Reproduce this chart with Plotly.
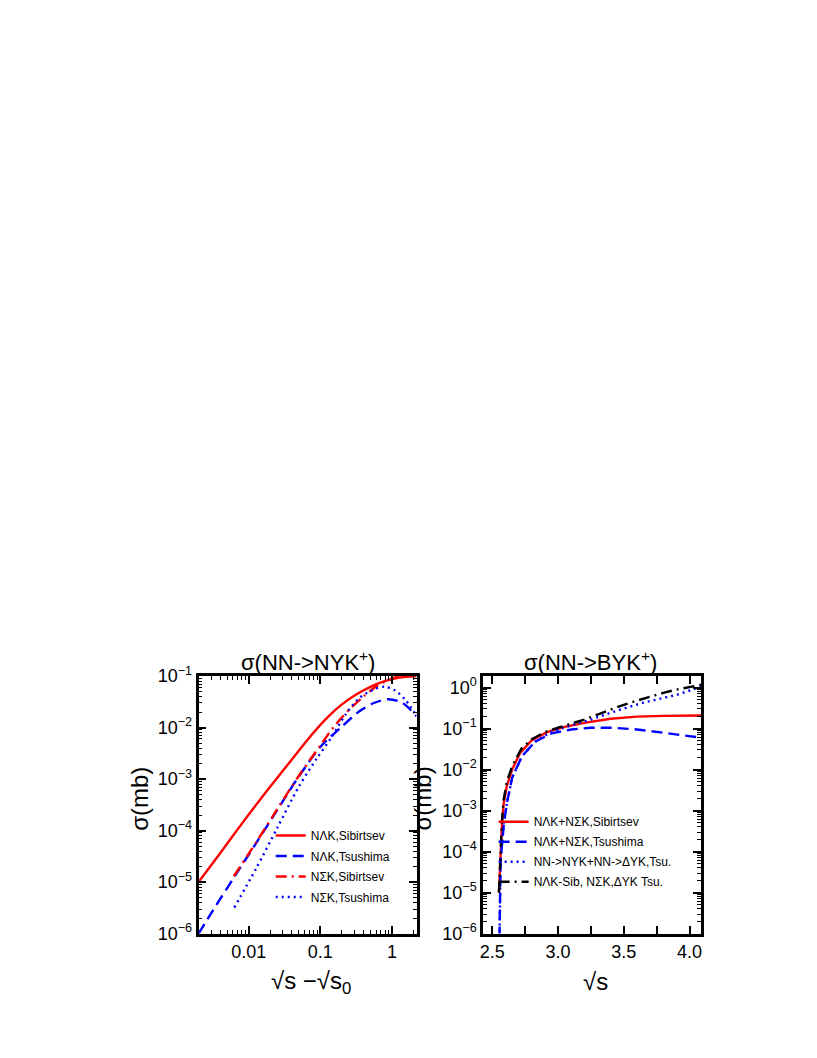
import plotly.graph_objects as go

# ---------------- data: left panel (x = sqrt(s)-sqrt(s0) [GeV], y = sigma [mb]) ----------------
eps_lam_sib = [0.002, 0.004, 0.0079, 0.0158, 0.0316, 0.05, 0.079, 0.126, 0.2, 0.316, 0.5, 0.79, 1.26, 2.2]
sig_lam_sib = [1.0e-5, 3.63e-5, 1.32e-4, 4.68e-4, 1.58e-3, 3.55e-3, 7.76e-3, 0.0158, 0.0282, 0.0437, 0.0617, 0.0794, 0.0933, 0.10]

eps_lam_tsu = [0.002, 0.00316, 0.0063, 0.0126, 0.025, 0.05, 0.1, 0.2, 0.355, 0.56, 0.89, 1.41, 2.2]
sig_lam_tsu = [1.0e-6, 2.8e-6, 1.26e-5, 5.6e-5, 2.5e-4, 1.12e-3, 4.2e-3, 0.0105, 0.021, 0.030, 0.0355, 0.030, 0.0166]

eps_sig_sib = [0.0062, 0.0126, 0.025, 0.05, 0.1, 0.158, 0.25, 0.4, 0.63, 1.0, 1.26, 2.2]
sig_sig_sib = [1.3e-5, 5.8e-5, 2.6e-4, 1.15e-3, 4.5e-3, 0.0108, 0.0220, 0.040, 0.066, 0.089, 0.10, 0.117]

eps_sig_tsu = [0.0063, 0.0126, 0.025, 0.05, 0.089, 0.141, 0.224, 0.355, 0.56, 0.79, 1.12, 1.58, 2.2]
sig_sig_tsu = [3.2e-6, 1.8e-5, 1.12e-4, 7.1e-4, 2.5e-3, 6.3e-3, 0.0178, 0.038, 0.055, 0.062, 0.052, 0.033, 0.0166]

# ---------------- data: right panel (x = sqrt(s) [GeV], y = sigma [mb]) ----------------
rs_sib = [2.550, 2.560, 2.572, 2.585, 2.61, 2.65, 2.71, 2.80, 2.92, 3.05, 3.20, 3.40, 3.60, 3.80, 4.09]
sg_sib = [1.0e-5, 6.3e-5, 4.0e-4, 1.4e-3, 4.0e-3, 0.010, 0.025, 0.052, 0.083, 0.11, 0.138, 0.174, 0.195, 0.204, 0.209]

rs_tsu = [2.554, 2.556, 2.563, 2.588, 2.612, 2.65, 2.725, 2.825, 2.95, 3.10, 3.25, 3.40, 3.60, 3.80, 4.09]
sg_tsu = [8e-7, 1.0e-5, 6.3e-5, 5.0e-4, 1.6e-3, 6.3e-3, 0.021, 0.048, 0.076, 0.095, 0.105, 0.105, 0.095, 0.079, 0.060]

rs_tsu_all = [2.554, 2.556, 2.563, 2.588, 2.612, 2.65, 2.725, 2.825, 2.95, 3.10, 3.25, 3.45, 3.65, 3.90, 4.06, 4.09]
sg_tsu_all = [8e-7, 1.0e-5, 6.3e-5, 5.0e-4, 1.6e-3, 6.3e-3, 0.021, 0.048, 0.083, 0.12, 0.166, 0.275, 0.43, 0.66, 1.0, 1.05]

rs_mix = [2.550, 2.560, 2.572, 2.585, 2.61, 2.65, 2.72, 2.80, 2.90, 3.00, 3.10, 3.20, 3.30, 3.40, 3.50, 3.60, 3.70, 3.80, 3.90, 4.00, 4.09]
sg_mix = [1.0e-5, 7.9e-5, 5.0e-4, 1.8e-3, 5.0e-3, 0.012, 0.032, 0.055, 0.082, 0.105, 0.13, 0.166, 0.22, 0.29, 0.38, 0.48, 0.60, 0.74, 0.89, 1.05, 1.17]

# ---------------- tick labels ----------------
left_x_ticks = [0.01, 0.1, 1]
left_x_text = ["0.01", "0.1", "1"]
left_y_exps = [-6, -5, -4, -3, -2, -1]
right_y_exps = [-6, -5, -4, -3, -2, -1, 0]
right_x_ticks = [2.5, 3.0, 3.5, 4.0]
right_x_text = ["2.5", "3.0", "3.5", "4.0"]
right_x_minor = [2.75, 3.25, 3.75]

W, H = 817, 1058
FONT = "Liberation Sans, Arial, sans-serif"


def px_x(v):
    return v / W


def px_y(v):
    return 1 - v / H


def pow_text(e):
    return "10<sup>%s</sup>" % (str(e).replace("-", "\u2212"))


def minor_log(d0, d1):
    return [m * 10.0 ** d for d in range(d0, d1) for m in range(2, 10)]


RED, BLUE, BLACK = "#ff0000", "#0000ff", "#000000"
LW = 2.4
DASH = "11px,6px"
DASHDOT = "11px,5px,2px,5px"
DOT = "2px,4px"

fig = go.Figure()


def add(xs, ys, name, color, dash, xa, ya, leg, group, spline):
    fig.add_trace(go.Scatter(
        x=xs, y=ys, mode="lines", name=name, legendgroup=group,
        line=dict(color=color, width=LW, dash=dash, shape="spline" if spline else "linear",
                  smoothing=0.8),
        xaxis=xa, yaxis=ya, legend=leg))


# left panel traces
add(eps_lam_sib, sig_lam_sib, "N\u039bK,Sibirtsev", RED, "solid", "x", "y", "legend", "a1", True)
add(eps_lam_tsu, sig_lam_tsu, "N\u039bK,Tsushima", BLUE, DASH, "x", "y", "legend", "a2", True)
add(eps_sig_sib, sig_sig_sib, "N\u03a3K,Sibirtsev", RED, DASHDOT, "x", "y", "legend", "a3", True)
add(eps_sig_tsu, sig_sig_tsu, "N\u03a3K,Tsushima", BLUE, DOT, "x", "y", "legend", "a4", True)

# right panel traces
add(rs_sib, sg_sib, "N\u039bK+N\u03a3K,Sibirtsev", RED, "solid", "x2", "y2", "legend2", "b1", False)
add(rs_tsu, sg_tsu, "N\u039bK+N\u03a3K,Tsushima", BLUE, DASH, "x2", "y2", "legend2", "b2", False)
add(rs_tsu_all, sg_tsu_all, "NN->NYK+NN->\u0394YK,Tsu.", BLUE, DOT, "x2", "y2", "legend2", "b3", False)
add(rs_mix, sg_mix, "N\u039bK-Sib, N\u03a3K,\u0394YK Tsu.", BLACK, DASHDOT, "x2", "y2", "legend2", "b4", False)

axis_common = dict(showline=True, linecolor="black", linewidth=2.8, mirror="allticks",
                   ticks="inside", ticklen=8, tickwidth=1.5, tickcolor="black",
                   showgrid=False, zeroline=False,
                   tickfont=dict(family=FONT, size=18, color="black"))

fig.update_layout(
    width=W, height=H, margin=dict(l=0, r=0, t=0, b=0),
    paper_bgcolor="white", plot_bgcolor="white", showlegend=True,
    xaxis=dict(type="log", domain=[px_x(188.5), px_x(407.5)], anchor="y",
               range=[-2.699, 0.342], tickmode="array", tickvals=left_x_ticks, ticktext=left_x_text,
               minor=dict(tickmode="array", tickvals=minor_log(-3, 1), ticks="inside", ticklen=4,
                          tickwidth=1.2, tickcolor="black", showgrid=False),
               **axis_common),
    yaxis=dict(type="log", domain=[px_y(933), px_y(670)], anchor="x",
               range=[-6, -1], tickmode="array", tickvals=[10.0 ** e for e in left_y_exps],
               ticktext=[pow_text(e) for e in left_y_exps],
               minor=dict(tickmode="array", tickvals=minor_log(-6, -1), ticks="inside", ticklen=4,
                          tickwidth=1.2, tickcolor="black", showgrid=False),
               **axis_common),
    xaxis2=dict(type="linear", domain=[px_x(474.5), px_x(693.5)], anchor="y2",
                range=[2.43, 4.088], tickmode="array", tickvals=right_x_ticks, ticktext=right_x_text,
                minor=dict(tickmode="array", tickvals=right_x_minor, ticks="inside", ticklen=8,
                           tickwidth=1.5, tickcolor="black", showgrid=False),
                **axis_common),
    yaxis2=dict(type="log", domain=[px_y(933), px_y(670)], anchor="x2",
                range=[-6, 0.28], tickmode="array", tickvals=[10.0 ** e for e in right_y_exps],
                ticktext=[pow_text(e) for e in right_y_exps],
                minor=dict(tickmode="array", tickvals=minor_log(-6, 1), ticks="inside", ticklen=4,
                           tickwidth=1.2, tickcolor="black", showgrid=False),
                **axis_common),
    legend=dict(x=px_x(261), y=px_y(818), xanchor="left", yanchor="top",
                bgcolor="rgba(0,0,0,0)", borderwidth=0, tracegroupgap=1.5,
                font=dict(family=FONT, size=12, color="black")),
    legend2=dict(x=px_x(485), y=px_y(804), xanchor="left", yanchor="top",
                 bgcolor="rgba(0,0,0,0)", borderwidth=0, tracegroupgap=1,
                 font=dict(family=FONT, size=12, color="black")),
)

ann_font_t = dict(family=FONT, size=22, color="black")
ann_font_l = dict(family=FONT, size=24, color="black")
annotations = [
    dict(text="\u03c3(NN->NYK<sup>+</sup>)", x=px_x(298), y=px_y(655), font=ann_font_t),
    dict(text="\u03c3(NN->BYK<sup>+</sup>)", x=px_x(582), y=px_y(655), font=ann_font_t),
    dict(text="\u03c3(mb)", x=px_x(129), y=px_y(795), font=ann_font_l, textangle=-90),
    dict(text="\u03c3(mb)", x=px_x(413), y=px_y(795), font=ann_font_l, textangle=-90),
    dict(text="\u221as \u2212\u221as<sub>0</sub>", x=px_x(301), y=px_y(983), font=ann_font_l),
    dict(text="\u221as", x=px_x(587), y=px_y(982), font=ann_font_l),
]
for a in annotations:
    a.update(xref="paper", yref="paper", showarrow=False, xanchor="center", yanchor="middle")
fig.update_layout(annotations=annotations)

fig.write_html("out.html")
